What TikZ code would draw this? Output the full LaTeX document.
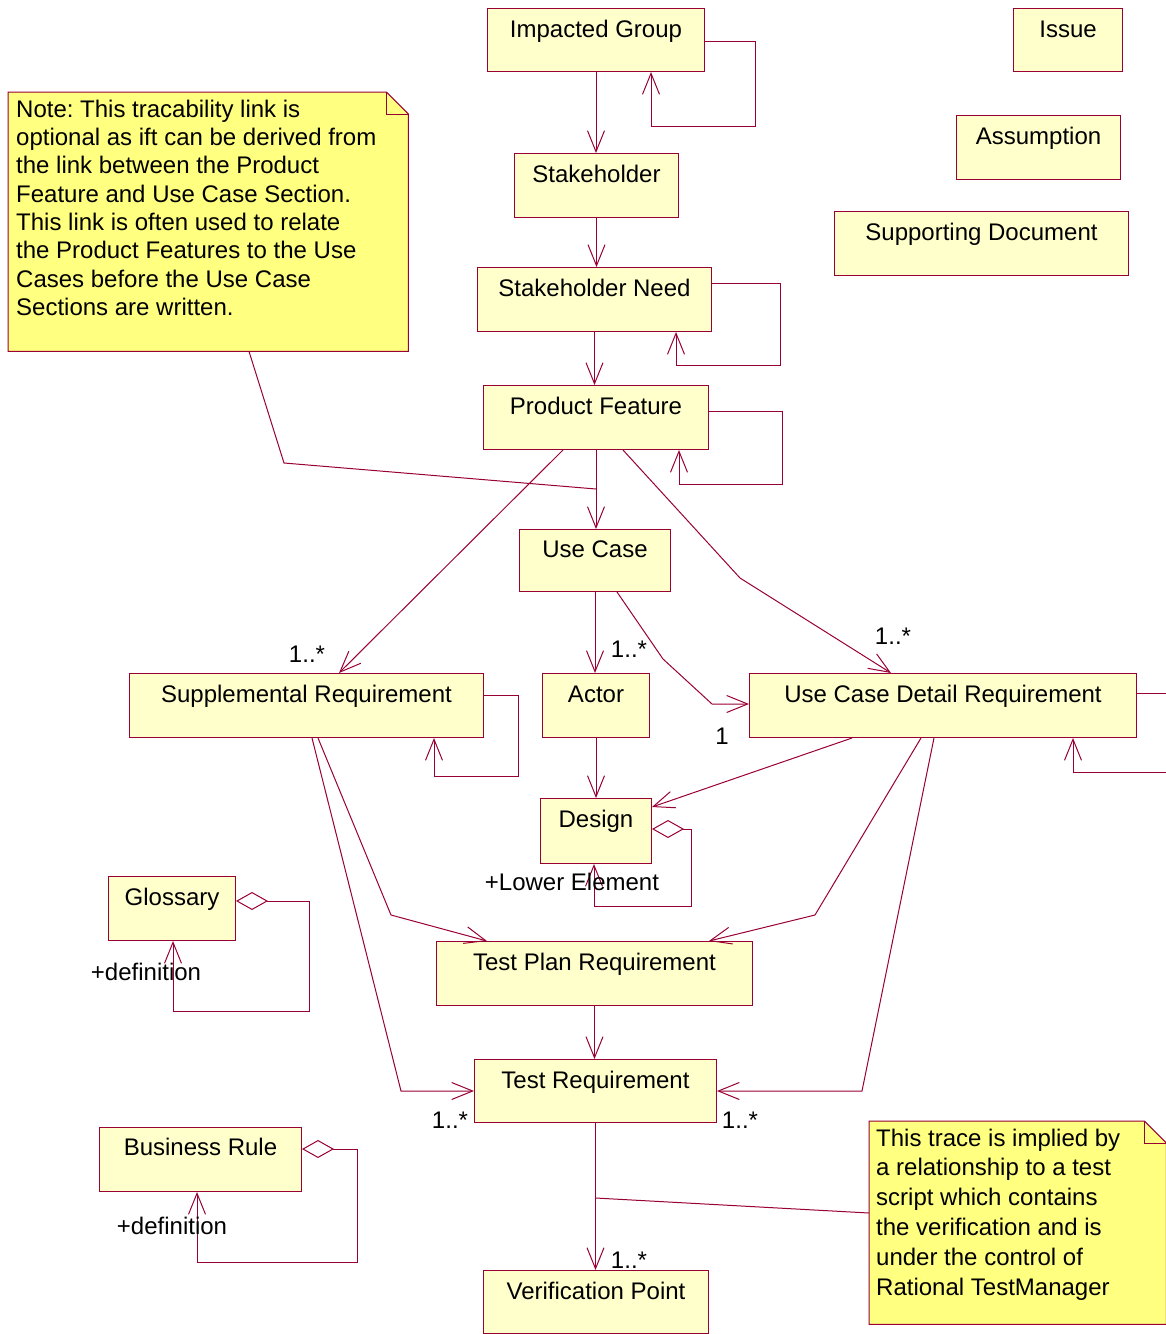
\documentclass[tikz,border=0pt]{standalone}
\usepackage{fontspec}
\setmainfont{Liberation Sans}
\frenchspacing
\usetikzlibrary{arrows.meta,calc}
\definecolor{bord}{RGB}{153,0,51}
\definecolor{boxfill}{RGB}{255,255,204}
\definecolor{notefill}{RGB}{255,255,128}
\begin{document}
\begin{tikzpicture}[x=1pt,y=-1pt,
  font=\fontsize{24}{28}\selectfont,
  box/.style={draw=bord, fill=boxfill, line width=1pt, inner sep=0pt, anchor=north west,
    text height=29pt, text depth=35pt, align=center},
  notebody/.style={draw=none, inner sep=0pt, anchor=north west},
  noteline/.style={draw=bord, fill=notefill, line width=1pt, line join=miter},
  notetext/.style={inner sep=0pt, anchor=base west},
  lbl/.style={inner sep=0pt, anchor=base},
  plain/.style={draw=bord, line width=1pt},
  link/.style={plain, -{Straight Barb[length=21pt,width=17pt]}},
  agg/.style={plain, {Diamond[open,length=32pt,width=18pt]}-{Straight Barb[length=21pt,width=17pt]}}
]
\fill[white] (0,0) rectangle (1166,1334);
\useasboundingbox (0,0) rectangle (1166,1334);

% ---------- notes ----------
\node[notebody, minimum width=400pt, minimum height=259pt] (n1) at (8,92) {};
\draw[noteline] (n1.north west) -- ($(n1.north east)+(-22,0)$) -- ($(n1.north east)+(0,22)$)
  -- (n1.south east) -- (n1.south west) -- cycle;
\draw[plain] ($(n1.north east)+(-22,0)$) -- ($(n1.north east)+(-22,22)$) -- ($(n1.north east)+(0,22)$);
\foreach \t [count=\i] in {Note: This tracability link is, optional as ift can be derived from,
  the link between the Product, Feature and Use Case Section., This link is often used to relate,
  the Product Features to the Use, Cases before the Use Case, Sections are written.}
  \node[notetext, name=na\i] at (16,{117+28.35*(\i-1)}) {\t};

\node[notebody, minimum width=297pt, minimum height=203pt] (n2) at (869,1121) {};
\draw[noteline] (n2.north west) -- ($(n2.north east)+(-22,0)$) -- ($(n2.north east)+(0,22)$)
  -- (n2.south east) -- (n2.south west) -- cycle;
\draw[plain] ($(n2.north east)+(-22,0)$) -- ($(n2.north east)+(-22,22)$) -- ($(n2.north east)+(0,22)$);
\foreach \t [count=\i] in {This trace is implied by, a relationship to a test, script which contains,
  the verification and is, under the control of, Rational TestManager}
  \node[notetext, name=nb\i] at (876,{1146+29.8*(\i-1)}) {\t};

% ---------- boxes ----------
\node[box, minimum width=217pt, text depth=34pt] (ig) at (487,8) {Impacted Group};
\node[box, minimum width=109pt, text depth=34pt] (issue) at (1013,8) {Issue};
\node[box, minimum width=164pt] (assump) at (956,115) {Assumption};
\node[box, minimum width=294pt] (supdoc) at (834,211) {Supporting Document};
\node[box, minimum width=164pt] (sh) at (514,153) {Stakeholder};
\node[box, minimum width=234pt] (sn) at (477,267) {Stakeholder Need};
\node[box, minimum width=225pt] (pf) at (483,385) {Product Feature};
\node[box, minimum width=151pt, text height=28pt, text depth=34pt] (uc) at (519,529) {Use Case};
\node[box, minimum width=354pt] (sr) at (129,673) {Supplemental Requirement};
\node[box, minimum width=107pt] (actor) at (542,673) {Actor};
\node[box, minimum width=387pt] (ucdr) at (749,673) {Use Case Detail Requirement};
\node[box, minimum width=111pt, text depth=36pt] (design) at (540,798) {Design};
\node[box, minimum width=127pt] (gloss) at (108,876) {Glossary};
\node[box, minimum width=316pt] (tpr) at (436,941) {Test Plan Requirement};
\node[box, minimum width=242pt, text depth=34pt] (tr) at (474,1059) {Test Requirement};
\node[box, minimum width=202pt, text height=28pt, text depth=36pt] (br) at (99,1127) {Business Rule};
\node[box, minimum width=225pt, text depth=34pt] (vp) at (483,1270) {Verification Point};

% ---------- connectors ----------
\draw[link] (ig.south) -- (ig.south |- sh.north);
\draw[link] ($(ig.north east)+(0,33)$) -- ++(50,0) -- ++(0,85) -| ($(ig.south west)+(164,0)$);
\draw[link] (sh.south) -- (sh.south |- sn.north);
\draw[link] ($(sn.north east)+(0,16)$) -- ++(68,0) -- ++(0,82) -| ($(sn.south west)+(199,0)$);
\draw[link] (sn.south) -- (sn.south |- pf.north);
\draw[link] ($(pf.north east)+(0,26)$) -- ++(73,0) -- ++(0,73) -| ($(pf.south west)+(196,0)$);
\coordinate (m1) at ($(pf.south)+(0,39)$);
\draw[link] (pf.south) -- (pf.south |- uc.north);
\draw[link] ($(pf.south west)+(80,0)$) -- ($(sr.north west)+(210,0)$);
\draw[link] ($(pf.south west)+(140,0)$) -- (740,578) -- ($(ucdr.north west)+(142,0)$);
\draw[link] (uc.south) -- (uc.south |- actor.north);
\draw[link] ($(uc.south west)+(98,0)$) -- (663,659) -- (712,704) -- ($(ucdr.north west)+(0,31)$);
\draw[link] (actor.south) -- (actor.south |- design.north);
\draw[link] ($(ucdr.south west)+(103,0)$) -- ($(design.north east)+(0,9)$);
\draw[agg] ($(design.north east)+(0,31)$) -- ++(39,0) -- ++(0,77) -| ($(design.south west)+(54,0)$);
\draw[link] ($(sr.north east)+(0,22)$) -- ++(34,0) -- ++(0,81) -| ($(sr.south west)+(305,0)$);
\draw[link] ($(sr.south west)+(189,0)$) -- (391,915) -- ($(tpr.north west)+(51,0)$);
\draw[link] ($(ucdr.south west)+(172,0)$) -- (815,915) -- ($(tpr.north west)+(273,0)$);
\draw[link] ($(sr.south west)+(183,0)$) -- (401,1091) -- ($(tr.north west)+(0,32)$);
\draw[link] ($(ucdr.south west)+(185,0)$) -- (862,1091) -- ($(tr.north east)+(0,32)$);
\draw[link] (tpr.south) -- (tpr.south |- tr.north);
\draw[link] (tr.south) -- (tr.south |- vp.north);
\coordinate (m2) at ($(tr.south)+(0,75)$);
\draw[plain] (m2) -- ($(n2.north west)+(0,92)$);
\draw[plain] ($(n1.south west)+(241,0)$) -- (284,463) -- (m1);
\draw[agg] ($(gloss.north east)+(0,25)$) -- ++(73,0) -- ++(0,110) -| ($(gloss.south west)+(65,0)$);
\draw[agg] ($(br.north east)+(0,22)$) -- ++(55,0) -- ++(0,113) -| ($(br.south west)+(98,0)$);
\begin{scope}
\clip (0,0) rectangle (1166,1334);
\draw[link] ($(ucdr.north east)+(0,20)$) -- (1190,693) -- (1190,772) -| ($(ucdr.south west)+(324,0)$);
\end{scope}

% ---------- labels ----------
\node[lbl] (l1) at (307,662) {1..*};
\node[lbl] (l2) at (893,644) {1..*};
\node[lbl] (l3) at (629,657) {1..*};
\node[lbl] (l4) at (722,744) {1};
\node[lbl] (l5) at (450,1128) {1..*};
\node[lbl] (l6) at (740,1128) {1..*};
\node[lbl] (l7) at (629,1268) {1..*};
\node[lbl] (l8) at (572,890) {+Lower Element};
\node[lbl] (l9) at (146,980) {+definition};
\node[lbl] (l10) at (172,1234) {+definition};
\end{tikzpicture}
\end{document}
